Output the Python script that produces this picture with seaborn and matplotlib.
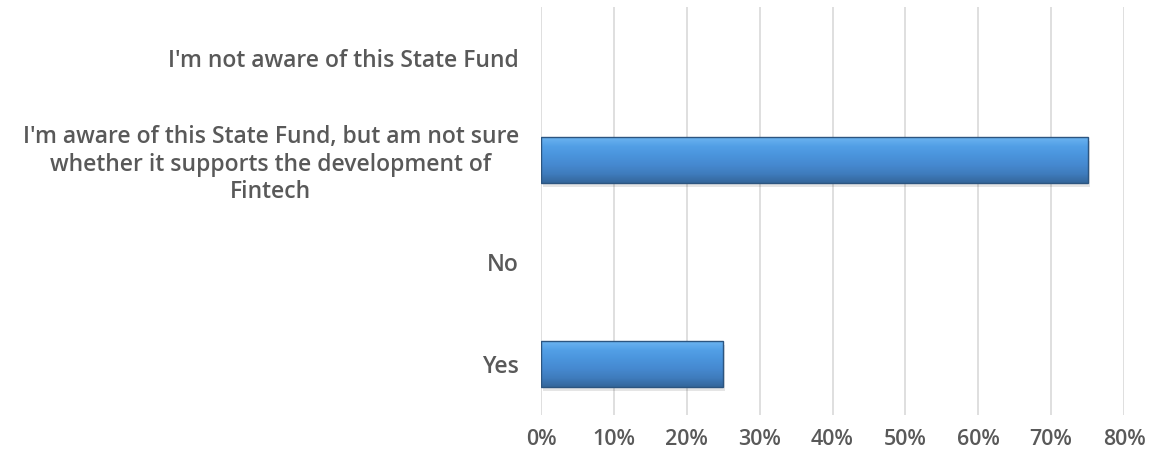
import numpy as np
import pandas as pd
import matplotlib
matplotlib.use("Agg")
import matplotlib.pyplot as plt
import seaborn as sns
from matplotlib.colors import LinearSegmentedColormap
from matplotlib.ticker import PercentFormatter, MultipleLocator

categories = [
    "I'm not aware of this State Fund",
    "I'm aware of this State Fund, but am not sure\nwhether it supports the development of\nFintech",
    "No",
    "Yes",
]
shares = [0.0, 0.75, 0.0, 0.25]

df = pd.DataFrame({"answer": categories, "share": shares})

sns.set_theme(style="white")
plt.rcParams["font.family"] = ["Open Sans", "DejaVu Sans"]

fig = plt.figure(figsize=(11.53, 4.55), dpi=100)
ax = fig.add_axes([541 / 1153, 1 - 415 / 455, (1124 - 541) / 1153, (415 - 7) / 455])

sns.barplot(data=df, x="share", y="answer", order=categories, color="#4a90d9",
            width=0.45, ax=ax, zorder=3)

# vertical gradient, light along the top and darker toward the lower edge
grad = LinearSegmentedColormap.from_list(
    "bevel", ["#6cb4f0", "#529fe6", "#4a94dc", "#4689d0", "#3f7cbd", "#34669a"])
ramp = np.linspace(0, 1, 256).reshape(-1, 1)
for patch in list(ax.patches):
    w = patch.get_width()
    if w <= 0:
        patch.set_visible(False)
        continue
    x0, y0 = patch.get_x(), patch.get_y()
    h = patch.get_height()
    # soft shadow under the bar
    ax.add_patch(plt.Rectangle((x0 + 0.003, y0 + 0.04), w, h, facecolor="#000000",
                               alpha=0.10, edgecolor="none", zorder=2))
    img = ax.imshow(ramp, cmap=grad, aspect="auto", origin="upper",
                    extent=(x0, x0 + w, y0 + h, y0), zorder=4)
    img.set_clip_path(patch)
    patch.set_edgecolor("#2c5580")
    patch.set_linewidth(1.0)
    patch.set_facecolor("none")
    patch.set_zorder(5)

ax.set_xlim(0, 0.8)
ax.set_ylim(len(categories) - 0.5, -0.5)
ax.xaxis.set_major_locator(MultipleLocator(0.1))
ax.xaxis.set_major_formatter(PercentFormatter(1.0, decimals=0))
ax.grid(axis="x", color="#d9d9d9", linewidth=1.2, zorder=0)
ax.grid(axis="y", visible=False)
for s in ax.spines.values():
    s.set_visible(False)
ax.set_xlabel("")
ax.set_ylabel("")
ax.tick_params(axis="x", length=0, pad=10, labelsize=15.5, labelcolor="#595959")
ax.tick_params(axis="y", length=0, pad=16, labelsize=16.5, labelcolor="#595959")
for lab in ax.get_xticklabels() + ax.get_yticklabels():
    lab.set_fontweight("semibold")
for lab in ax.get_yticklabels():
    lab.set_multialignment("center")
    lab.set_linespacing(1.2)

fig.savefig("out.png", dpi=100)
